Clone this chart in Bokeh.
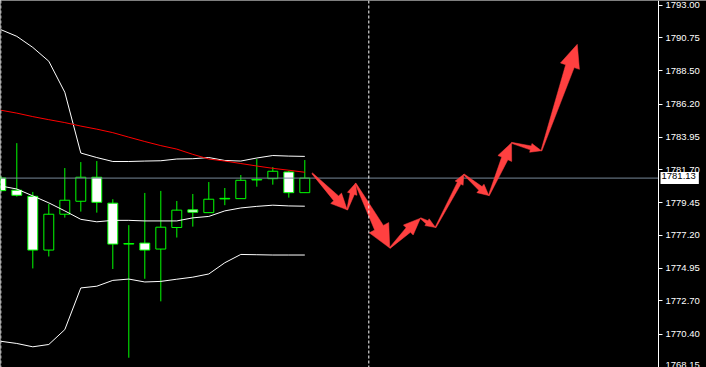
import numpy as np
from bokeh.plotting import figure
from bokeh.models import LinearAxis, FixedTicker, Span, Label, Range1d, ColumnDataSource, PrintfTickFormatter
from bokeh.embed import file_html
from bokeh.resources import INLINE

# ---------------- data ----------------
bar_index = list(range(20))
opens  = [1781.14, 1780.30, 1779.88, 1776.19, 1778.65, 1779.54, 1781.19, 1779.41, 1776.64, 1776.67,
          1776.26, 1777.74, 1778.95, 1778.76, 1779.74, 1779.72, 1781.04, 1781.09, 1781.55, 1780.13]
highs  = [1781.28, 1783.53, 1780.18, 1779.36, 1781.82, 1782.23, 1782.30, 1779.68, 1777.90, 1780.11,
          1780.25, 1779.56, 1780.04, 1780.86, 1780.45, 1781.34, 1782.44, 1781.89, 1781.64, 1782.37]
lows   = [1780.20, 1779.86, 1774.93, 1775.75, 1778.42, 1778.83, 1778.76, 1774.89, 1768.80, 1774.22,
          1772.67, 1777.05, 1777.80, 1778.74, 1779.27, 1779.70, 1780.54, 1780.68, 1779.79, 1780.11]
closes = [1780.27, 1779.95, 1776.19, 1778.65, 1779.61, 1781.19, 1779.47, 1776.60, 1776.60, 1776.19,
          1777.76, 1778.93, 1778.79, 1779.68, 1779.70, 1780.98, 1781.00, 1781.60, 1780.13, 1781.13]

bb_upper  = [1791.32, 1790.86, 1790.10, 1789.15, 1787.02, 1782.85, 1782.54, 1782.27, 1782.27, 1782.30,
             1782.32, 1782.44, 1782.46, 1782.54, 1782.34, 1782.30, 1782.51, 1782.68, 1782.64, 1782.62]
bb_middle = [1780.59, 1780.38, 1779.91, 1779.43, 1778.88, 1778.30, 1778.13, 1778.23, 1778.23, 1778.19,
             1778.19, 1778.19, 1778.40, 1778.50, 1778.88, 1779.08, 1779.19, 1779.27, 1779.22, 1779.20]
bb_lower  = [1769.93, 1769.78, 1769.55, 1769.71, 1770.73, 1773.59, 1773.71, 1774.11, 1774.20, 1774.00,
             1774.04, 1774.19, 1774.33, 1774.55, 1775.32, 1775.89, 1775.87, 1775.85, 1775.85, 1775.85]
ma_red    = [1785.79, 1785.59, 1785.35, 1785.14, 1784.94, 1784.70, 1784.49, 1784.25, 1783.94, 1783.64,
             1783.36, 1783.12, 1782.76, 1782.44, 1782.30, 1782.13, 1781.96, 1781.80, 1781.67, 1781.53]

current_price = 1781.13
separator_bars = [0, 23]

forecast_x = [19.46, 21.65, 22.17, 24.31, 26.23, 27.17, 28.94, 30.50, 31.92, 33.79, 36.03]
forecast_y = [1781.46, 1778.95, 1780.77, 1776.33, 1778.38, 1777.74, 1781.39, 1779.93, 1783.55, 1783.01, 1790.31]

tick_values = [1793.00, 1790.75, 1788.50, 1786.20, 1783.95, 1781.70, 1779.45,
               1777.20, 1774.95, 1772.70, 1770.40, 1768.15]

# ---------------- styles ----------------
head_len = [16, 11, 23, 17, 10, 10, 11, 17, 11, 23]
head_wid = [15, 10, 22, 14, 8, 9, 11, 15, 9, 20]

W, H = 706, 367
AXIS_PX = 658
BAR_PX = 16.0
x0 = -0.3 / BAR_PX
x1 = x0 + W / BAR_PX
x_axis = x0 + AXIS_PX / BAR_PX
y0, y1 = 1768.13, 1793.32

p = figure(width=W, height=H, x_range=Range1d(x0, x1), y_range=Range1d(y0, y1),
           output_backend="svg", toolbar_location=None,
           x_axis_location=None, y_axis_location=None,
           min_border_left=0, min_border_top=0, min_border_bottom=0, min_border_right=0,
           background_fill_color="black", border_fill_color="black",
           outline_line_color=None)
for g in p.grid:
    g.visible = False

ax = LinearAxis(ticker=FixedTicker(ticks=tick_values, minor_ticks=[]),
                formatter=PrintfTickFormatter(format="%.2f"),
                fixed_location=x_axis)
ax.axis_line_color = "white"
ax.major_tick_line_color = "white"
ax.minor_tick_line_color = None
ax.major_tick_out = 4
ax.major_tick_in = 0
ax.major_label_standoff = 3
ax.major_label_text_color = "white"
ax.major_label_text_font = "Liberation Sans"
ax.major_label_text_font_size = "9.5px"
p.add_layout(ax, "right")

# separators
for b in separator_bars:
    p.add_layout(Span(location=b, dimension="height", line_color="white",
                      line_width=1, line_dash="3 2"))

# candles
body_top = [max(o, c) for o, c in zip(opens, closes)]
body_bot = [min(o, c) for o, c in zip(opens, closes)]
fills = []
for o, c in zip(opens, closes):
    if abs(o - c) < 0.06:
        fills.append("#00FF00")
    elif c > o:
        fills.append("black")
    else:
        fills.append("white")
src = ColumnDataSource(dict(x=bar_index, top=body_top, bottom=body_bot, high=highs, low=lows, fill=fills))
p.segment(x0="x", y0="high", x1="x", y1="low", source=src, line_color="#00FF00", line_width=1)
p.vbar(x="x", width=0.62, top="top", bottom="bottom", source=src,
       fill_color="fill", line_color="#00FF00", line_width=1)

# indicators
p.line(bar_index, bb_upper, line_color="white", line_width=1)
p.line(bar_index, bb_middle, line_color="white", line_width=1)
p.line(bar_index, bb_lower, line_color="white", line_width=1)
p.line(bar_index, ma_red, line_color="#FF0000", line_width=1)

# current price line (up to the price axis)
p.segment(x0=[x0], y0=[current_price], x1=[x_axis], y1=[current_price],
          line_color="#778899", line_width=1)

# forecast arrows
sx = BAR_PX
sy = H / (y1 - y0)
xs_list, ys_list = [], []
for k in range(len(forecast_x) - 1):
    X0, Y0 = forecast_x[k] * sx, forecast_y[k] * sy
    X1, Y1 = forecast_x[k + 1] * sx, forecast_y[k + 1] * sy
    dx, dy = X1 - X0, Y1 - Y0
    L = np.hypot(dx, dy)
    ux, uy = dx / L, dy / L
    nx, ny = -uy, ux
    h, w = head_len[k], head_wid[k]
    s = 0.45 * w
    t = 1.0
    bx, by = X1 - h * ux, Y1 - h * uy
    pts = [(X0 + nx * t / 2, Y0 + ny * t / 2),
           (bx + nx * s / 2, by + ny * s / 2),
           (bx + nx * w / 2, by + ny * w / 2),
           (X1, Y1),
           (bx - nx * w / 2, by - ny * w / 2),
           (bx - nx * s / 2, by - ny * s / 2),
           (X0 - nx * t / 2, Y0 - ny * t / 2)]
    xs_list.append([q[0] / sx for q in pts])
    ys_list.append([q[1] / sy for q in pts])
p.patches(xs_list, ys_list, fill_color="#FF4040", line_color="#FF4040", line_width=0.5)

# current price tag
p.add_layout(Label(x=x_axis, y=current_price, x_offset=2, text="%.2f" % current_price,
                   text_color="black", text_font="Liberation Sans", text_font_size="9.5px",
                   text_baseline="middle", text_align="left",
                   background_fill_color="white", padding=(1, 3, 1, 5)))

open("out.html", "w").write(file_html(p, INLINE))
